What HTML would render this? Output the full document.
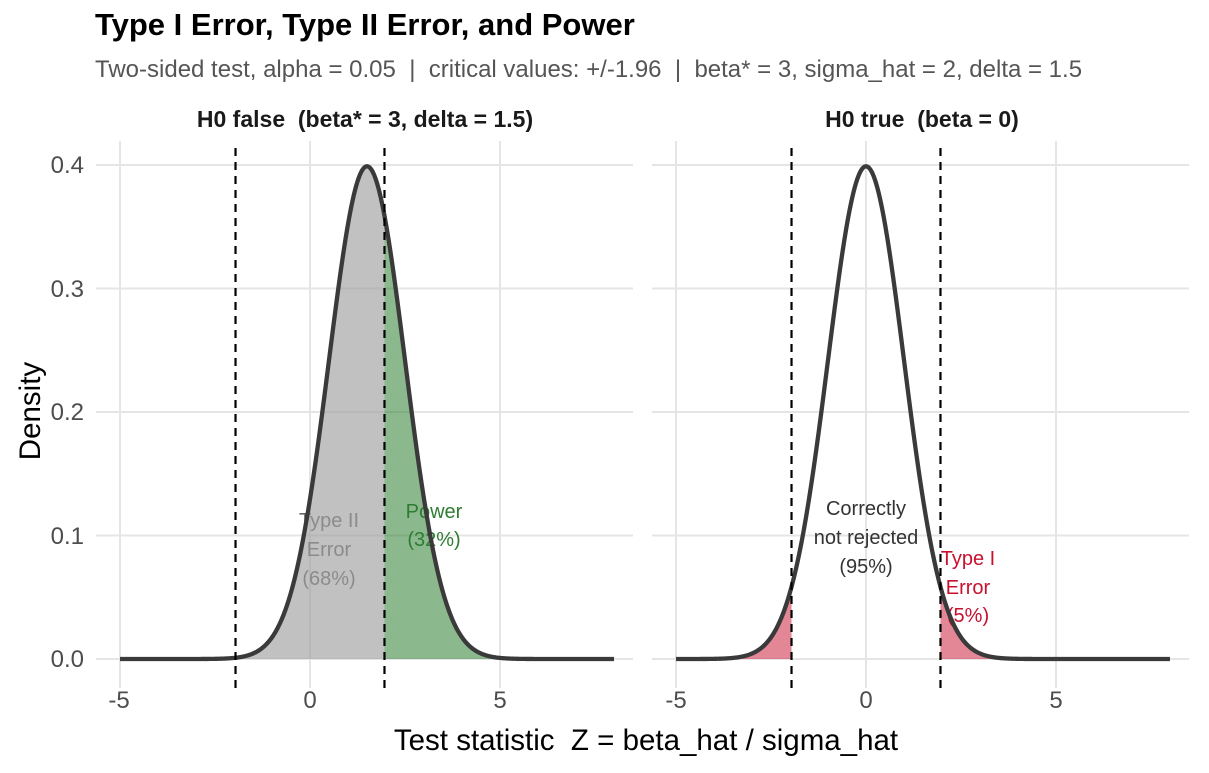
<!DOCTYPE html>
<html><head><meta charset="utf-8"><style>
body{margin:0;background:#fff}
svg text{font-family:"Liberation Sans",Arial,sans-serif}
</style></head><body>
<svg id="s" width="1209" height="768" xmlns="http://www.w3.org/2000/svg">
<rect width="1209" height="768" fill="#fff"/>
<text x="95" y="35" font-size="31" font-weight="bold" fill="#000">Type I Error, Type II Error, and Power</text>
<text x="95" y="77" font-size="24" fill="#555" xml:space="preserve">Two-sided test, alpha = 0.05  |  critical values: +/-1.96  |  beta* = 3, sigma_hat = 2, delta = 1.5</text>
<text x="365" y="127" font-size="23" font-weight="bold" fill="#1a1a1a" text-anchor="middle" xml:space="preserve">H0 false  (beta* = 3, delta = 1.5)</text>
<text x="922" y="127" font-size="23" font-weight="bold" fill="#1a1a1a" text-anchor="middle" xml:space="preserve">H0 true  (beta = 0)</text>
<g id="g"></g>
<g font-size="24" fill="#4d4d4d" text-anchor="end">
<text x="84" y="173">0.4</text><text x="84" y="297">0.3</text><text x="84" y="420">0.2</text><text x="84" y="544">0.1</text><text x="84" y="667">0.0</text>
</g>
<g font-size="24" fill="#4d4d4d" text-anchor="middle">
<text x="119" y="708">-5</text><text x="310" y="708">0</text><text x="500" y="708">5</text>
<text x="676" y="708">-5</text><text x="866" y="708">0</text><text x="1056" y="708">5</text>
</g>
<text x="646" y="750" font-size="29.5" fill="#000" text-anchor="middle" xml:space="preserve">Test statistic  Z = beta_hat / sigma_hat</text>
<text transform="translate(40,411) rotate(-90)" font-size="29.5" fill="#000" text-anchor="middle">Density</text>
</svg>
<script>
var g=document.getElementById('g'),h='';
function pd(z,m){return Math.exp(-0.5*(z-m)*(z-m))/Math.sqrt(2*Math.PI);}
var Y=function(d){return 659-d*1235;};
var P=[{x0:310,m:1.5},{x0:866,m:0}];
P.forEach(function(p){
 var l=p.x0-214,r=p.x0+323;
 [0,0.1,0.2,0.3,0.4].forEach(function(d){h+='<line x1="'+l+'" x2="'+r+'" y1="'+Y(d)+'" y2="'+Y(d)+'" stroke="#e5e5e5" stroke-width="2"/>';});
 [-5,0,5].forEach(function(z){var x=p.x0+z*38;h+='<line x1="'+x+'" x2="'+x+'" y1="141" y2="688" stroke="#e5e5e5" stroke-width="2"/>';});
});
function area(p,a,b,col){
 var s='M'+(p.x0+a*38)+','+Y(0);
 for(var i=0;i<=200;i++){var z=a+(b-a)*i/200;s+='L'+(p.x0+z*38).toFixed(2)+','+Y(pd(z,p.m)).toFixed(2);}
 s+='L'+(p.x0+b*38)+','+Y(0)+'Z';
 return '<path d="'+s+'" fill="'+col+'"/>';
}
function line(p){var s='';for(var i=0;i<=600;i++){var z=-5+13*i/600;s+=(i?'L':'M')+(p.x0+z*38).toFixed(2)+','+Y(pd(z,p.m)).toFixed(2);}
 return '<path d="'+s+'" fill="none" stroke="#3a3a3a" stroke-width="4.3" stroke-linejoin="round"/>';}
var c=1.96;
h+='<g font-size="20" fill="#666" text-anchor="middle"><text x="329" y="527">Type II</text><text x="329" y="556">Error</text><text x="329" y="585">(68%)</text></g>';
h+='<g font-size="20" fill="#2e7d32" text-anchor="middle"><text x="434" y="518">Power</text><text x="434" y="546">(32%)</text></g>';
h+=area(P[0],-5,c,'rgba(160,160,160,0.65)');
h+=area(P[0],c,8,'rgba(46,125,50,0.55)');
h+=line(P[0]);
h+='<g font-size="20" fill="#333" text-anchor="middle"><text x="866" y="515">Correctly</text><text x="866" y="544">not rejected</text><text x="866" y="573">(95%)</text></g>';
h+='<g font-size="20" fill="#c8102e" text-anchor="middle"><text x="968" y="565">Type I</text><text x="968" y="594">Error</text><text x="968" y="622">(5%)</text></g>';
h+=area(P[1],-5,-c,'rgba(200,16,46,0.5)');
h+=area(P[1],c,8,'rgba(200,16,46,0.5)');
h+=line(P[1]);
P.forEach(function(p){[-c,c].forEach(function(z){var x=p.x0+z*38;h+='<line x1="'+x+'" x2="'+x+'" y1="148" y2="688" stroke="#000" stroke-width="2.2" stroke-dasharray="8,6"/>';});});
g.innerHTML=h;
</script>
</body></html>
